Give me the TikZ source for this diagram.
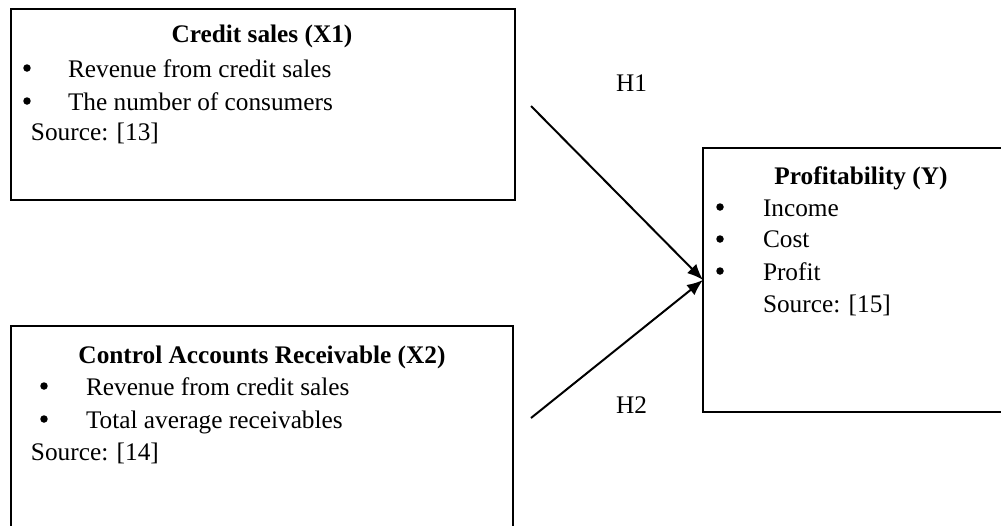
\documentclass[tikz,border=0pt]{standalone}
\usepackage{fontspec}
\setmainfont{Liberation Serif}
\usetikzlibrary{arrows.meta}

\begin{document}
\begin{tikzpicture}[
            x = 0.02cm, y = -0.02cm,
            every node/.style={inner sep=0pt, outer sep=0pt, font=\fontsize{14.4}{16}\selectfont},
            box/.style={draw, line width = .04cm, rectangle, anchor=north west},
            ttl/.style={anchor=base, font=\fontsize{14.4}{16}\selectfont\bfseries},
            txt/.style={anchor=base west},
            bul/.style={circle, fill, minimum size=.15cm},
            line/.style={line width = .04cm, -{Latex[length=.32cm, width=.26cm]}},
            ]

        \useasboundingbox (0, 0) rectangle (1001, 525);
        \clip (0, 0) rectangle (1001, 525);

        \node[box, minimum width=10.08cm, minimum height=3.82cm] (box1) at (11, 9) {};
        \node[box, minimum width=10.04cm, minimum height=4.8cm] (box2) at (11, 326) {};
        \node[box, minimum width=6.8cm, minimum height=5.28cm] (box3) at (703, 148) {};

        \node[ttl] (x1t) at (262, 42) {Credit sales (X1)};
        \node[bul] (x1p1) at (27, 68) {};
        \node[txt] (x1a) at (68, 77) {Revenue from credit sales};
        \node[bul] (x1p2) at (27, 101) {};
        \node[txt] (x1b) at (68, 110) {The number of consumers};
        \node[txt] (x1s) at (31, 140) {Source: [13]};

        \node[ttl] (x2t) at (262, 363) {Control Accounts Receivable (X2)};
        \node[bul] (x2p1) at (44, 386) {};
        \node[txt] (x2a) at (86, 395) {Revenue from credit sales};
        \node[bul] (x2p2) at (44, 419) {};
        \node[txt] (x2b) at (86, 428) {Total average receivables};
        \node[txt] (x2s) at (31, 460) {Source: [14]};

        \node[ttl] (yt) at (861, 184) {Profitability (Y)};
        \node[bul] (yp1) at (720, 207) {};
        \node[txt] (ya) at (763, 216) {Income};
        \node[bul] (yp2) at (720, 239) {};
        \node[txt] (yb) at (763, 247) {Cost};
        \node[bul] (yp3) at (720, 271) {};
        \node[txt] (yc) at (763, 280) {Profit};
        \node[txt] (ys) at (763, 312) {Source: [15]};

        \node[txt] (h1) at (616, 91) {H1};
        \node[txt] (h2) at (616, 413) {H2};

        \coordinate (h1s) at (531, 106);
        \coordinate (h2s) at (531, 418);

        \draw[line] (h1s) -- (box3.west);
        \draw[line] (h2s) -- (box3.west);
    \end{tikzpicture}
\end{document}
